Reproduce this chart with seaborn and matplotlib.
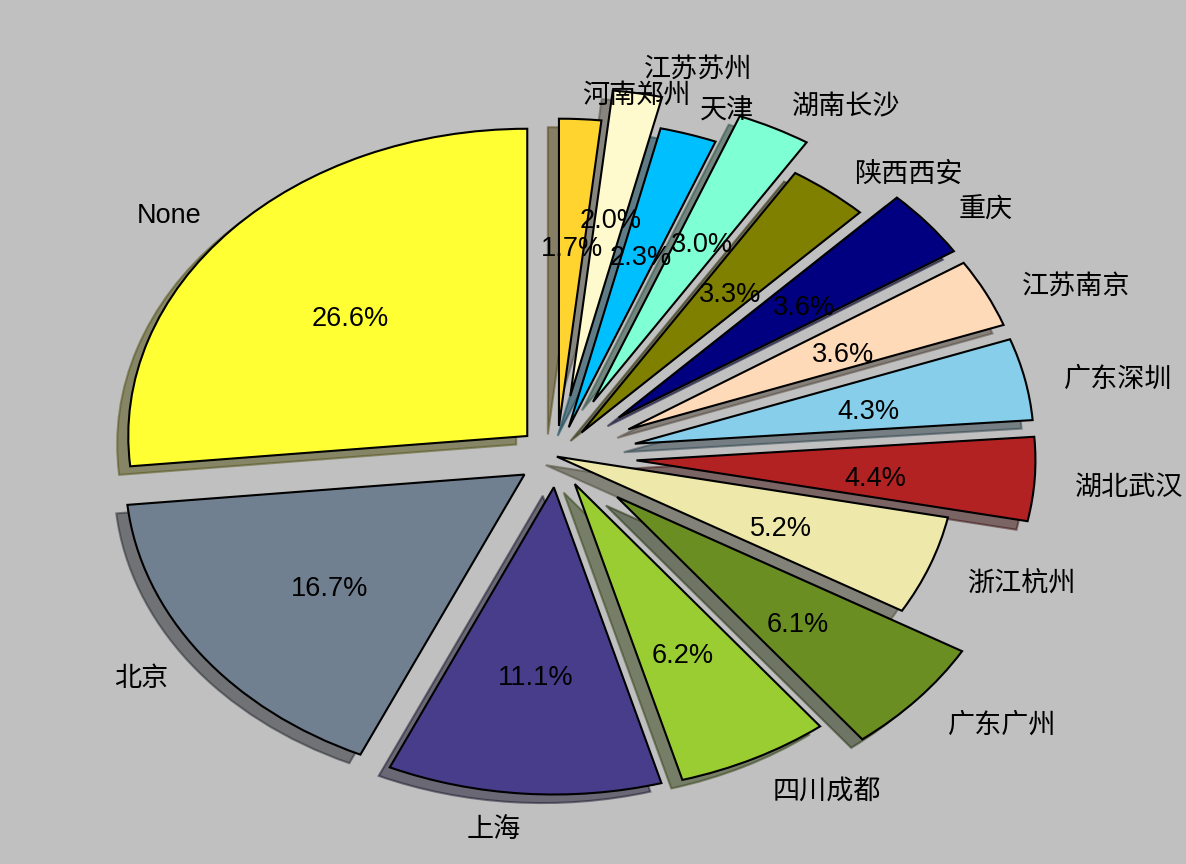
import matplotlib
matplotlib.use("Agg")
import matplotlib.pyplot as plt
import matplotlib.transforms as mtransforms
import seaborn as sns

labels = ["None", "北京", "上海", "四川成都", "广东广州", "浙江杭州", "湖北武汉",
          "广东深圳", "江苏南京", "重庆", "陕西西安", "湖南长沙", "天津", "江苏苏州", "河南郑州"]
shares = [26.6, 16.7, 11.1, 6.2, 6.1, 5.2, 4.4, 4.3, 3.6, 3.6, 3.3, 3.0, 2.3, 2.0, 1.7]
colors = ["#ffff33", "#708090", "#483d8b", "#9acd32", "#6b8e23", "#eee8aa", "#b22222",
          "#87ceeb", "#ffdab9", "#000080", "#808000", "#7fffd4", "#00bfff", "#fffacd", "#ffd42e"]
explode = [0.1, 0.1, 0.1, 0.1, 0.2, 0.0, 0.2, 0.2, 0.2, 0.2, 0.1, 0.2, 0.1, 0.2, 0.1]

sns.set_theme(style="white")
plt.rcParams["font.family"] = ["Liberation Sans", "Noto Sans CJK SC", "DejaVu Sans"]

fig = plt.figure(figsize=(11.86, 8.64), dpi=100, facecolor="#c0c0c0")
ax = fig.add_axes([0.049, 0.027, 0.841, 0.889])
ax.set_facecolor("#c0c0c0")

wedges, texts, autotexts = ax.pie(
    shares, labels=labels, colors=colors, explode=explode,
    autopct="%1.1f%%", pctdistance=0.6, labeldistance=1.1,
    startangle=90, counterclock=True, shadow=True,
    wedgeprops=dict(edgecolor="black", linewidth=1.5),
    textprops=dict(fontsize=19.5, color="black"),
)
ax.set_aspect("auto")
ax.set_xlim(-1.25, 1.25)
ax.set_ylim(-1.25, 1.25)
ax.axis("off")

shift = mtransforms.ScaledTranslation(0, -0.07, fig.dpi_scale_trans)
for t in list(texts) + list(autotexts):
    t.set_transform(t.get_transform() + shift)

fig.savefig("out.png", dpi=100, facecolor=fig.get_facecolor())
